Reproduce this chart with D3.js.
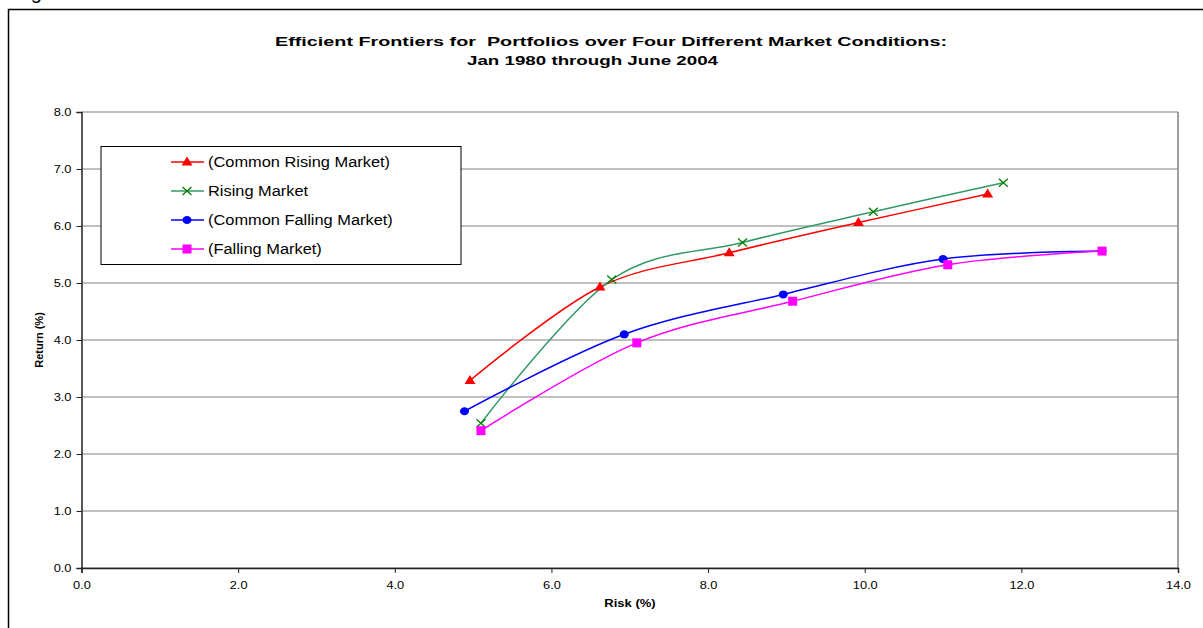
<!DOCTYPE html>
<html>
<head>
<meta charset="utf-8">
<script src="https://cdn.jsdelivr.net/npm/d3@7"></script>
<style>
  body { margin: 0; background: #fff; }
  text { font-family: "Liberation Sans", Arial, sans-serif; }
</style>
</head>
<body>
<div id="chart"></div>
<script>
const seriesNames = ['(Common Rising Market)', 'Rising Market', '(Common Falling Market)', '(Falling Market)']
const lineColors = ['#FF0000', '#339966', '#0000FF', '#FF00FF']
const markerColors = ['#FF0000', '#008000', '#0000FF', '#FF00FF']
const markerTypes = ['triangle', 'cross', 'circle', 'square']

const riskCommonRising = [4.96, 6.62, 8.27, 9.92, 11.57]
const returnCommonRising = [3.29, 4.93, 5.53, 6.06, 6.56]
const riskRising = [5.10, 6.77, 8.44, 10.11, 11.77]
const returnRising = [2.54, 5.06, 5.71, 6.25, 6.76]
const riskCommonFalling = [4.89, 6.93, 8.96, 11.00, 13.03]
const returnCommonFalling = [2.75, 4.10, 4.80, 5.42, 5.56]
const riskFalling = [5.10, 7.09, 9.08, 11.06, 13.03]
const returnFalling = [2.41, 3.95, 4.68, 5.32, 5.56]

const xTicks = [0, 2, 4, 6, 8, 10, 12, 14]
const yTicks = [0, 1, 2, 3, 4, 5, 6, 7, 8]

const titleLines = ['Efficient Frontiers for  Portfolios over Four Different Market Conditions:', 'Jan 1980 through June 2004']

const width = 1203
const height = 628
const plot = { left: 81.5, right: 1178, top: 112, bottom: 568 }
// the picture is wider than tall in its text, so stretch glyphs sideways
const stretchX = 1.18

const series = [
  [riskCommonRising, returnCommonRising],
  [riskRising, returnRising],
  [riskCommonFalling, returnCommonFalling],
  [riskFalling, returnFalling]
].map((s, i) => ({
  name: seriesNames[i],
  line: lineColors[i],
  marker: markerColors[i],
  type: markerTypes[i],
  points: s[0].map((x, j) => ({ x: x, y: s[1][j] }))
}))

const stretch = (sel, factor) => {
  sel.each(function() {
    const len = this.getComputedTextLength()
    d3.select(this)
      .attr('textLength', len * factor)
      .attr('lengthAdjust', 'spacingAndGlyphs')
  })
}

const svg = d3.select('#chart')
  .append('svg')
  .attr('width', width)
  .attr('height', height)

// caption of the page, cut off at the top
svg.append('text')
  .attr('x', 14)
  .attr('y', -1)
  .style('font-size', '20px')
  .text('Figure')

// outer chart frame
svg.append('rect')
  .attr('x', 8.5)
  .attr('y', 9.5)
  .attr('width', 1300)
  .attr('height', 700)
  .attr('fill', 'white')
  .attr('stroke', 'black')
  .attr('stroke-width', 1.5)

const x = d3.scaleLinear().domain([0, 14]).range([plot.left, plot.right])
const y = d3.scaleLinear().domain([0, 8]).range([plot.bottom, plot.top])

// gridlines
svg.append('g')
  .selectAll('line')
  .data(yTicks)
  .enter()
  .append('line')
  .attr('x1', plot.left)
  .attr('x2', plot.right)
  .attr('y1', d => y(d))
  .attr('y2', d => y(d))
  .attr('stroke', '#808080')
  .attr('stroke-width', 1.2)

// right border of plot area
svg.append('line')
  .attr('x1', plot.right)
  .attr('x2', plot.right)
  .attr('y1', plot.top)
  .attr('y2', plot.bottom)
  .attr('stroke', '#808080')
  .attr('stroke-width', 1.5)

// axes
const xAxis = d3.axisBottom(x)
  .tickValues(xTicks)
  .tickFormat(d3.format('.1f'))
  .tickSize(5)
  .tickPadding(9)

const yAxis = d3.axisLeft(y)
  .tickValues(yTicks)
  .tickFormat(d3.format('.1f'))
  .tickSize(5)
  .tickPadding(5)

const gx = svg.append('g')
  .attr('transform', 'translate(0,' + plot.bottom + ')')
  .call(xAxis)

const gy = svg.append('g')
  .attr('transform', 'translate(' + plot.left + ',0)')
  .call(yAxis)

;[gx, gy].forEach(g => {
  g.select('.domain').attr('stroke', '#222').attr('stroke-width', 1.5)
  g.selectAll('.tick line').attr('stroke', '#222')
  g.selectAll('.tick text')
    .style('font-family', '"Liberation Sans", Arial, sans-serif')
    .style('font-size', '10.5px')
    .attr('fill', '#000')
    .call(stretch, 1.22)
})

// series lines
const line = d3.line()
  .curve(d3.curveCardinal.tension(0))
  .x(d => x(d.x))
  .y(d => y(d.y))

svg.append('g')
  .selectAll('path')
  .data(series)
  .enter()
  .append('path')
  .attr('d', d => line(d.points))
  .attr('fill', 'none')
  .attr('stroke', d => d.line)
  .attr('stroke-width', 1.5)

const drawMarker = (g, type, color) => {
  if (type === 'triangle') {
    g.append('path').attr('d', 'M0,-5.5 L5.5,3.5 L-5.5,3.5 Z').attr('fill', color)
  } else if (type === 'cross') {
    g.append('path').attr('d', 'M-4.5,-4 L4.5,4 M-4.5,4 L4.5,-4')
      .attr('stroke', color).attr('stroke-width', 1.3).attr('fill', 'none')
  } else if (type === 'circle') {
    g.append('ellipse').attr('rx', 4.5).attr('ry', 4).attr('fill', color)
  } else {
    g.append('rect').attr('x', -4.5).attr('y', -4.5).attr('width', 9).attr('height', 9).attr('fill', color)
  }
}

series.forEach(s => {
  s.points.forEach(p => {
    const g = svg.append('g').attr('transform', 'translate(' + x(p.x) + ',' + y(p.y) + ')')
    drawMarker(g, s.type, s.marker)
  })
})

// title
const titleX = [275, 467]
const titleLen = [672, 251]
svg.append('g')
  .selectAll('text')
  .data(titleLines)
  .enter()
  .append('text')
  .attr('x', (d, i) => titleX[i])
  .attr('y', (d, i) => 46 + i * 19)
  .attr('textLength', (d, i) => titleLen[i])
  .attr('lengthAdjust', 'spacingAndGlyphs')
  .style('font-size', '13px')
  .style('font-weight', 'bold')
  .style('white-space', 'pre')
  .text(d => d)

// axis titles
svg.append('text')
  .attr('x', 630)
  .attr('y', 607)
  .attr('text-anchor', 'middle')
  .style('font-size', '11px')
  .style('font-weight', 'bold')
  .text('Risk (%)')
  .call(stretch, stretchX)

svg.append('text')
  .attr('transform', 'translate(43,340) rotate(-90)')
  .attr('text-anchor', 'middle')
  .style('font-size', '11px')
  .style('font-weight', 'bold')
  .text('Return (%)')

// legend
const legend = svg.append('g')

legend.append('rect')
  .attr('x', 101)
  .attr('y', 146.5)
  .attr('width', 360)
  .attr('height', 118)
  .attr('fill', 'white')
  .attr('stroke', 'black')
  .attr('stroke-width', 1)

const rowY = [162, 191, 220, 249]

series.forEach((s, i) => {
  const row = legend.append('g').attr('transform', 'translate(0,' + rowY[i] + ')')
  row.append('line')
    .attr('x1', 171)
    .attr('x2', 204)
    .attr('stroke', s.line)
    .attr('stroke-width', 1.5)
  drawMarker(row.append('g').attr('transform', 'translate(187,0)'), s.type, s.marker)
  row.append('text')
    .attr('x', 208)
    .attr('y', 5)
    .style('font-size', '14px')
    .text(s.name)
    .call(stretch, 1.17)
})
</script>
</body>
</html>
